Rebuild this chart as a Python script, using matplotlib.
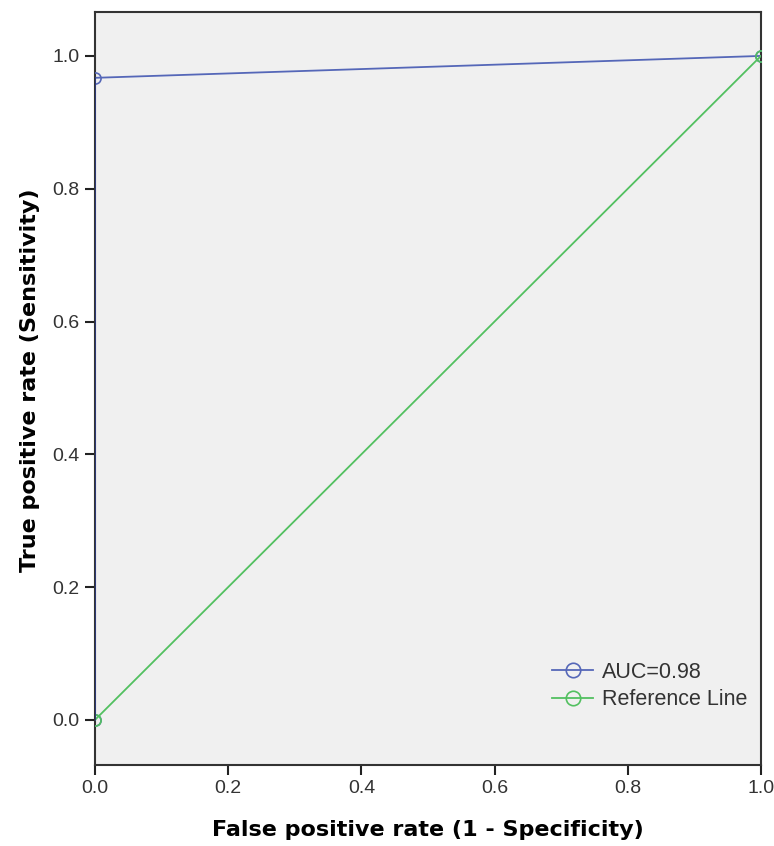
import matplotlib
matplotlib.use("Agg")
import matplotlib.pyplot as plt

plt.rcParams['font.family'] = ['Liberation Sans', 'DejaVu Sans']

fpr = [0.0, 0.0, 1.0]
tpr = [0.0, 0.967, 1.0]
ref_x = [0.0, 1.0]
ref_y = [0.0, 1.0]
auc_label = "AUC=0.98"
ref_label = "Reference Line"
xticks = [0.0, 0.2, 0.4, 0.6, 0.8, 1.0]
yticks = [0.0, 0.2, 0.4, 0.6, 0.8, 1.0]

blue = '#5567b8'
green = '#52c060'

fig = plt.figure(figsize=(7.74, 8.46), dpi=100)
ax = fig.add_axes([0.1227, 0.0957, 0.8605, 0.890])
ax.set_facecolor('#f0f0f0')

ax.plot(fpr, tpr, color=blue, lw=1.3, marker='o', ms=8, mfc='none', mec=blue, mew=1.2,
        label=auc_label, zorder=3)
ax.plot(ref_x, ref_y, color=green, lw=1.3, marker='o', ms=8, mfc='none', mec=green, mew=1.2,
        label=ref_label, zorder=3)
ax.plot(fpr[:2], tpr[:2], color='#2a3570', lw=1.3, zorder=3)

ax.set_xlim(0, 1)
ax.set_ylim(-0.068, 1.066)
ax.set_xticks(xticks)
ax.set_yticks(yticks)
ax.set_xticklabels([f"{v:.1f}" for v in xticks])
ax.set_yticklabels([f"{v:.1f}" for v in yticks])
ax.tick_params(direction='out', length=7, width=1.5, labelsize=14, colors='#222222',
               labelcolor='#333333', pad=4)
for s in ax.spines.values():
    s.set_linewidth(1.5)
    s.set_color('#333333')

ax.set_xlabel("False positive rate (1 - Specificity)", fontsize=16, fontweight='bold',
              family='DejaVu Sans', labelpad=16)
ax.set_ylabel("True positive rate (Sensitivity)", fontsize=16, fontweight='bold',
              family='DejaVu Sans')
ax.yaxis.set_label_coords(-0.083, 0.511)

leg = ax.legend(loc='lower right', bbox_to_anchor=(1.008, 0.047), frameon=False,
                fontsize=15.5, handlelength=1.9, handletextpad=0.4, labelspacing=0.3,
                markerscale=1.3)
for t in leg.get_texts():
    t.set_color('#333333')

fig.savefig("out.png", dpi=100)
